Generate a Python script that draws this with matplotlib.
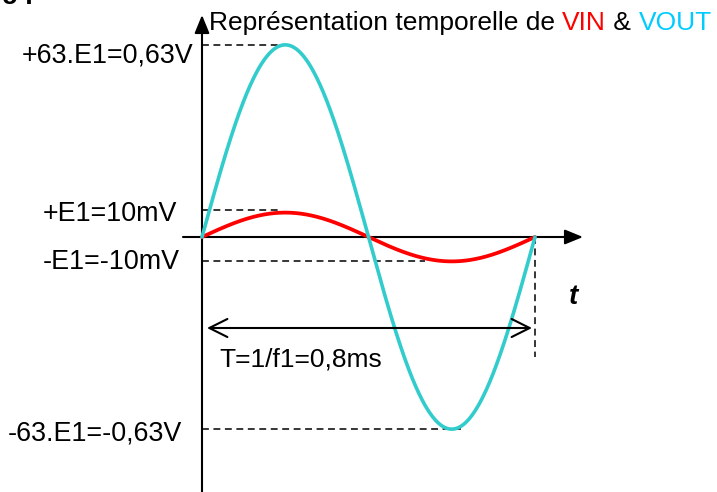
import numpy as np
import matplotlib
matplotlib.use("Agg")
import matplotlib.pyplot as plt
import matplotlib.transforms as mtransforms

# ---------------- data ----------------
period_ms = 0.8                 # T = 1/f1 = 0.8 ms
vout_amp = 0.63                 # VOUT amplitude (63.E1 = 0.63 V)
vin_amp = 0.08                  # VIN amplitude, drawn enlarged (E1 = 10 mV)
e1_mark_top = 0.087             # +E1 guide level (schematic)
e1_mark_bot = -0.08             # -E1 guide level (schematic)
label_texts = ["+63.E1=0,63V", "+E1=10mV", "-E1=-10mV", "-63.E1=-0,63V"]
label_levels = [vout_amp, e1_mark_top, e1_mark_bot, -vout_amp]
guide_ends_ms = [0.2, 0.188, 0.535, 0.622]
period_text = "T=1/f1=0,8ms"
title_parts = ["Représentation temporelle de ", "VIN", " & ", "VOUT"]
title_colors = ["black", "#FF0000", "black", "#00CCFF"]

# ---------------- figure ----------------
W, H = 717, 492
DPI = 100
plt.rcParams["font.family"] = ["Liberation Sans", "DejaVu Sans"]
fig = plt.figure(figsize=(W / DPI, H / DPI), dpi=DPI)
ax = fig.add_axes([0, 0, 1, 1])
ax.set_axis_off()

x0_px, y0_px = 202, 237
sx, sy = 416.25, 305.0
ax.set_xlim(-x0_px / sx, (W - x0_px) / sx)
ax.set_ylim(-(H - y0_px) / sy, y0_px / sy)

# pixel transform: (x from left, y from top)
pix = mtransforms.Affine2D().scale(1, -1).translate(0, H)

# curves
t = np.linspace(0, period_ms, 500)
vin = vin_amp * np.sin(2 * np.pi * t / period_ms)
vout = vout_amp * np.sin(2 * np.pi * t / period_ms)
ax.plot(t, vin, color="#FF0000", lw=2.7, solid_capstyle="round", zorder=3)
ax.plot(t, vout, color="#33CCCC", lw=2.6, solid_capstyle="round", zorder=4)

# axes with arrows
ax.annotate("", xy=((583 - x0_px) / sx, 0), xytext=((183 - x0_px) / sx, 0),
            arrowprops=dict(arrowstyle="-|>,head_length=1.1,head_width=0.45",
                            mutation_scale=10, lw=1.5, color="black",
                            shrinkA=0, shrinkB=0), zorder=2)
ax.annotate("", xy=(0, (y0_px - 15) / sy), xytext=(0, -(H + 5 - y0_px) / sy),
            arrowprops=dict(arrowstyle="-|>,head_length=1.1,head_width=0.45",
                            mutation_scale=10, lw=1.5, color="black",
                            shrinkA=0, shrinkB=0), zorder=2)

# dashed guides
for lvl, xe in zip(label_levels, guide_ends_ms):
    ax.plot([0, xe], [lvl, lvl], color="black", lw=1.1, dashes=(4.5, 3), zorder=1)
ax.plot([period_ms, period_ms], [0, -(357 - y0_px) / sy], color="black", lw=1.1,
        dashes=(4.5, 3), zorder=1)

# period double arrow
ya = -(328 - y0_px) / sy
ax.annotate("", xy=((532 - x0_px) / sx, ya), xytext=((207 - x0_px) / sx, ya),
            arrowprops=dict(arrowstyle="<->,head_length=1.3,head_width=0.65",
                            mutation_scale=10, lw=1.5, color="black",
                            shrinkA=0, shrinkB=0), zorder=5)

FS = 19
# level labels
label_pos = [(22, 62), (43, 221), (43, 269), (8, 441)]
for txt, (lx, ly) in zip(label_texts, label_pos):
    ax.text(lx, ly, txt, transform=pix, fontsize=19.4, ha="left", va="baseline")

ax.text(219, 367, period_text, transform=pix, fontsize=FS, ha="left", va="baseline")
ax.text(569, 304, "t", transform=pix, fontsize=FS + 1, fontweight="bold",
        fontstyle="italic", ha="left", va="baseline")

# clipped heading at top-left (partially outside, as in the reference)
ax.text(-18, 4, "Q5 :", transform=pix, fontsize=FS, fontweight="bold",
        ha="left", va="baseline")

# multi-coloured title
fig.canvas.draw()
renderer = fig.canvas.get_renderer()
xcur = 209
for part, col in zip(title_parts, title_colors):
    tt = ax.text(xcur, 30, part, transform=pix, fontsize=FS, color=col,
                 ha="left", va="baseline")
    bb = tt.get_window_extent(renderer=renderer)
    xcur += bb.width

fig.savefig("out.png", dpi=DPI)
